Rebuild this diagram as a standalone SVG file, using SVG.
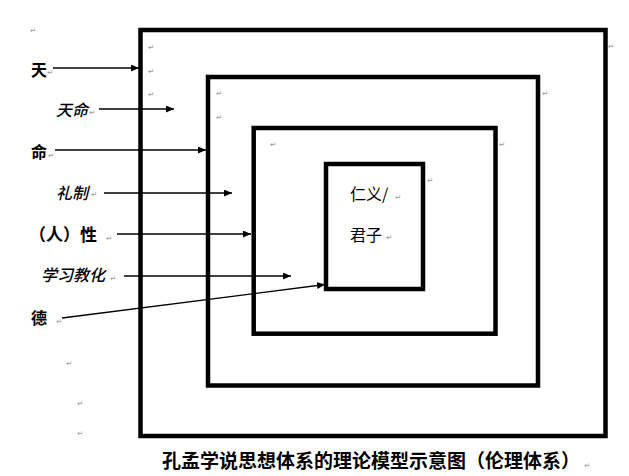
<svg xmlns="http://www.w3.org/2000/svg" width="629" height="476" viewBox="0 0 629 476">
<style>
.box{fill:none;stroke:#000;stroke-width:4.5}
.con{stroke:#000;stroke-width:1.3;fill:none}
.lb{font-family:"Noto Sans CJK SC","Noto Sans",sans-serif;font-size:16px;fill:#000}
.b{font-weight:600}
.i{font-style:italic;font-weight:500}
.pm{font-family:"DejaVu Sans",sans-serif;font-size:7.5px;fill:#999}
</style>
<defs>
<marker id="ah" viewBox="0 0 8 7" refX="8" refY="3.5" markerWidth="8" markerHeight="7" markerUnits="userSpaceOnUse" orient="auto">
<path d="M0,0 L8,3.5 L0,7 z" fill="#000"/>
</marker>
</defs>
<rect width="629" height="476" fill="#fff"/>
<g id="box-outer"><rect class="box" x="140.5" y="30" width="465" height="406"/></g>
<g id="box-second"><rect class="box" x="208" y="77" width="330" height="308.5"/></g>
<g id="box-third"><rect class="box" x="253.7" y="128" width="241.8" height="205.7"/></g>
<g id="box-inner"><rect class="box" x="326" y="164" width="97" height="125"/>
<text class="lb" x="350" y="200">仁义/</text>
<text class="lb" x="350" y="241">君子</text>
</g>
<g id="labels">
<text id="n-tian" class="lb b" x="31" y="76">天</text>
<text id="n-tianming" class="lb i" x="56" y="116">天命</text>
<text id="n-ming" class="lb b" x="31" y="158">命</text>
<text id="n-lizhi" class="lb i" x="56" y="199">礼制</text>
<text id="n-xing" class="lb b" x="29" y="241" style="font-size:17px">（人）性</text>
<text id="n-xuexi" class="lb i" x="41" y="281">学习教化</text>
<text id="n-de" class="lb b" x="31" y="324">德</text>
</g>
<g id="connectors">
<line class="con" x1="53" y1="68" x2="139" y2="68" marker-end="url(#ah)"/>
<line class="con" x1="99" y1="109" x2="174" y2="109" marker-end="url(#ah)"/>
<line class="con" x1="55" y1="150" x2="206" y2="150" marker-end="url(#ah)"/>
<line class="con" x1="104" y1="193" x2="232" y2="193" marker-end="url(#ah)"/>
<line class="con" x1="117" y1="234" x2="251" y2="234" marker-end="url(#ah)"/>
<line class="con" x1="124" y1="276" x2="291" y2="276" marker-end="url(#ah)"/>
<line class="con" x1="62" y1="318" x2="325" y2="284.5" marker-end="url(#ah)"/>
</g>
<g id="caption">
<text class="lb" x="162" y="468" style="font-size:19px;font-weight:600">孔孟学说思想体系的理论模型示意图（伦理体系）</text>
</g>
<g id="para-marks">
<text class="pm" x="30" y="33">↵</text>
<text class="pm" x="148" y="50">↵</text>
<text class="pm" x="148" y="74">↵</text>
<text class="pm" x="148" y="97">↵</text>
<text class="pm" x="216" y="96">↵</text>
<text class="pm" x="216" y="120">↵</text>
<text class="pm" x="270" y="147">↵</text>
<text class="pm" x="608" y="49">↵</text>
<text class="pm" x="542" y="96">↵</text>
<text class="pm" x="499" y="147">↵</text>
<text class="pm" x="427" y="183">↵</text>
<text class="pm" x="395" y="200">↵</text>
<text class="pm" x="386" y="240">↵</text>
<text class="pm" x="47" y="75">↵</text>
<text class="pm" x="89" y="115">↵</text>
<text class="pm" x="48" y="158">↵</text>
<text class="pm" x="91" y="197">↵</text>
<text class="pm" x="106" y="241">↵</text>
<text class="pm" x="110" y="281">↵</text>
<text class="pm" x="56" y="324">↵</text>
<text class="pm" x="66" y="366">↵</text>
<text class="pm" x="77" y="406">↵</text>
<text class="pm" x="77" y="436">↵</text>
<text class="pm" x="584" y="468">↵</text>
</g>
</svg>
